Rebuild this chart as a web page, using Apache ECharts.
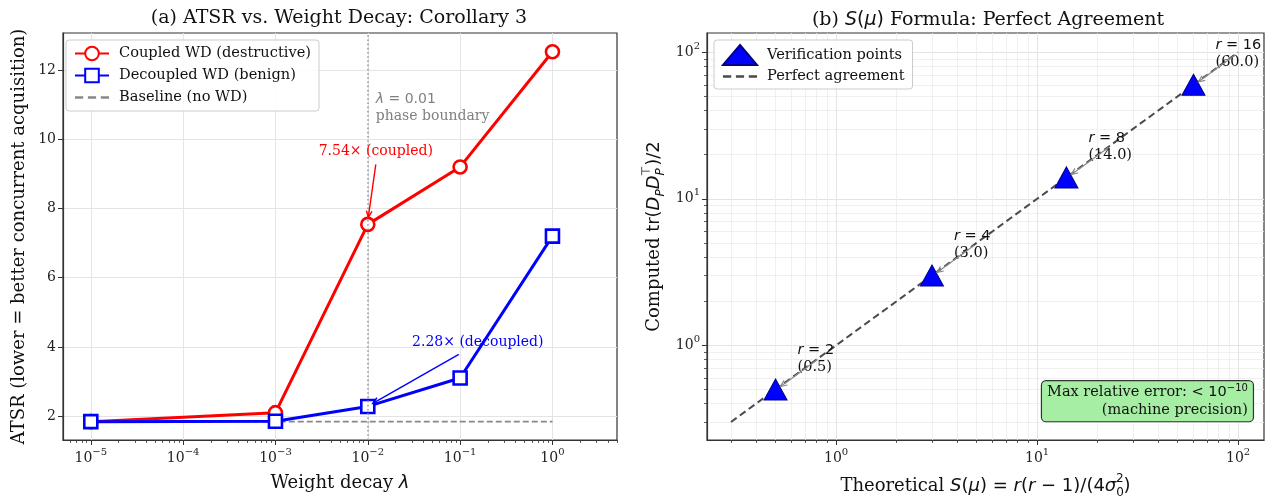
<!DOCTYPE html>
<html>
<head>
<meta charset="utf-8">
<script src="https://cdn.jsdelivr.net/npm/echarts@6/dist/echarts.min.js"></script>
<style>
  html, body { margin: 0; padding: 0; background: #fff; }
  #chart { width: 1273px; height: 496px; }
</style>
</head>
<body>
<div id="chart"></div>
<script>
// (a) ATSR vs weight decay
const lambdas = [1e-5, 1e-3, 1e-2, 1e-1, 1]
const coupledAtsr = [1.84, 2.1, 7.54, 9.2, 12.53]
const decoupledAtsr = [1.84, 1.85, 2.28, 3.1, 7.2]
const baselineAtsr = 1.84
const phaseLambda = 0.01
const xTicksA = [1e-5, 1e-4, 1e-3, 1e-2, 1e-1, 1]
const yTicksA = [2, 4, 6, 8, 10, 12]

// (b) S(mu) verification
const ranks = [2, 4, 8, 16]
const theoretical = [0.5, 3, 14, 60]
const computed = [0.5, 3, 14, 60]
const agreeRange = [0.3, 100]
const logTicksB = [1, 10, 100]

const SERIF = 'DejaVu Serif'
const SANS = 'DejaVu Sans'
const FRAME = '#333'
const TXT = '#111'

// minor log ticks (2..9 x 10^n)
function minorTicks(lo, hi) {
  let out = []
  for (let e = lo; e <= hi; e++) {
    for (let k = 2; k <= 9; k++) out.push(k * Math.pow(10, e))
  }
  return out
}

const supRich = {
  b: { fontFamily: SERIF, fontSize: 14, color: '#222', lineHeight: 22, verticalAlign: 'middle' },
  e: { fontFamily: SERIF, fontSize: 10, color: '#222', lineHeight: 15, verticalAlign: 'top' },
}
function powLabel(v) {
  let e = Math.round(Math.log10(v))
  return '{b|10}{e|' + (e < 0 ? '\u2212' + (-e) : e) + '}'
}

const chart = echarts.init(document.getElementById('chart'), null, { renderer: 'canvas' })

const gridA = { left: 63, right: 656, top: 33, bottom: 56 }
const gridB = { left: 707, right: 9, top: 33, bottom: 56 }

function frameGrid(g) {
  return Object.assign({
    show: true, borderColor: FRAME, borderWidth: 1.2, backgroundColor: 'transparent',
    containLabel: false, outerBoundsMode: 'none',
  }, g)
}

const majorSplit = { show: true, lineStyle: { color: '#e4e4e4', width: 1 } }
const minorSplit = { show: true, lineStyle: { color: '#ececec', width: 0.8 } }

// rich styles for mixed serif / math text
function mathRich(size, color, lh) {
  lh = lh || size + 8
  return {
    t: { fontFamily: SERIF, fontSize: size, color, lineHeight: lh, verticalAlign: 'middle' },
    i: { fontFamily: SANS, fontStyle: 'italic', fontSize: size, color, lineHeight: lh, verticalAlign: 'middle' },
    m: { fontFamily: SANS, fontSize: size, color, lineHeight: lh, verticalAlign: 'middle' },
    s: { fontFamily: SANS, fontStyle: 'italic', fontSize: Math.round(size * 0.68), color, lineHeight: Math.round(size * 0.8), verticalAlign: 'bottom' },
    u: { fontFamily: SANS, fontSize: Math.round(size * 0.68), color, lineHeight: Math.round(size * 0.8), verticalAlign: 'bottom' },
    p: { fontFamily: SANS, fontSize: Math.round(size * 0.68), color, lineHeight: size + 1, verticalAlign: 'top', padding: [0, 0, 0, -Math.round(size * 0.42)] },
  }
}

const dashIcon = 'path://M0,0h7v2H0z M11,0h7v2h-7z M22,0h7v2h-7z'

const option = {
  animation: false,
  backgroundColor: '#fff',
  textStyle: { fontFamily: SERIF },
  title: [
    {
      text: '(a) ATSR vs. Weight Decay: Corollary 3',
      left: 334, top: 4, textAlign: 'center',
      textStyle: { fontFamily: SERIF, fontSize: 19, fontWeight: 'normal', color: TXT },
    },
    {
      text: '{t|(b) }{i|S}{m|(}{i|\u03bc}{m|)}{t| Formula: Perfect Agreement}',
      left: 983, top: 4, textAlign: 'center',
      textStyle: { fontSize: 19, fontWeight: 'normal', color: TXT, rich: mathRich(19, TXT, 22) },
    },
  ],
  grid: [frameGrid(gridA), frameGrid(gridB)],
  legend: [
    {
      left: 66, top: 40, orient: 'vertical',
      itemWidth: 34, itemHeight: 17, itemGap: 5,
      padding: [5, 8, 5, 8],
      borderColor: '#cccccc', borderWidth: 1, borderRadius: 3,
      backgroundColor: 'rgba(255,255,255,0.85)',
      textStyle: { fontFamily: SERIF, fontSize: 14.6, color: TXT, lineHeight: 17, padding: [0, 0, 0, 5] },
      data: [
        'Coupled WD (destructive)',
        'Decoupled WD (benign)',
        { name: 'Baseline (no WD)', icon: dashIcon, itemStyle: { color: '#888888', borderWidth: 0 } },
      ],
    },
    {
      left: 714, top: 40, orient: 'vertical',
      itemWidth: 34, itemHeight: 20, itemGap: 2,
      padding: [4, 8, 4, 8],
      borderColor: '#cccccc', borderWidth: 1, borderRadius: 3,
      backgroundColor: 'rgba(255,255,255,0.85)',
      textStyle: { fontFamily: SERIF, fontSize: 14.6, color: TXT, lineHeight: 17, padding: [0, 0, 0, 5] },
      data: [
        { name: 'Verification points', icon: 'triangle' },
        { name: 'Perfect agreement', icon: dashIcon, itemStyle: { color: '#4a4a4a', borderWidth: 0 } },
      ],
    },
  ],
  xAxis: [
    {
      // left main
      type: 'log', logBase: 10, gridIndex: 0, position: 'bottom',
      min: 5e-6, max: 5,
      name: '{t|Weight decay }{i|\u03bb}', nameLocation: 'middle', nameGap: 30,
      nameTextStyle: { fontSize: 18, color: TXT, rich: mathRich(18, TXT) },
      axisLine: { show: true, onZero: false, lineStyle: { color: FRAME, width: 1.2 } },
      axisTick: { show: true, length: 5, customValues: xTicksA, lineStyle: { color: FRAME } },
      axisLabel: { customValues: xTicksA, margin: 7, formatter: powLabel, rich: supRich },
      splitLine: majorSplit,
    },
    {
      // left minor ticks
      type: 'log', logBase: 10, gridIndex: 0, position: 'bottom',
      min: 5e-6, max: 5,
      axisLine: { show: false, onZero: false },
      axisTick: { show: true, length: 3, customValues: minorTicks(-6, 0), lineStyle: { color: FRAME, width: 0.8 } },
      axisLabel: { show: false },
      splitLine: { show: false },
    },
    {
      // right main
      type: 'log', logBase: 10, gridIndex: 1, position: 'bottom',
      min: 0.228, max: 134.6,
      name: '{t|Theoretical }{i|S}{m|(}{i|\u03bc}{m|) = }{i|r}{m|(}{i|r}{m| \u2212 1)/(4}{i|\u03c3}{u|0}{p|2}{m|)}',
      nameLocation: 'middle', nameGap: 33,
      nameTextStyle: { fontSize: 18, color: TXT, rich: mathRich(18, TXT) },
      axisLine: { show: true, onZero: false, lineStyle: { color: FRAME, width: 1.2 } },
      axisTick: { show: true, length: 5, customValues: logTicksB, lineStyle: { color: FRAME } },
      axisLabel: { customValues: logTicksB, margin: 7, formatter: powLabel, rich: supRich },
      splitLine: majorSplit,
    },
    {
      // right minor
      type: 'log', logBase: 10, gridIndex: 1, position: 'bottom',
      min: 0.228, max: 134.6,
      axisLine: { show: false, onZero: false },
      axisTick: { show: true, length: 3, customValues: minorTicks(-1, 1), lineStyle: { color: FRAME, width: 0.8 } },
      axisLabel: { show: false },
      splitLine: minorSplit,
    },
  ],
  yAxis: [
    {
      type: 'value', gridIndex: 0, position: 'left',
      min: 1.31, max: 13.07,
      name: 'ATSR (lower = better concurrent acquisition)', nameLocation: 'middle', nameGap: 35,
      nameTextStyle: { fontFamily: SERIF, fontSize: 18, color: TXT },
      axisLine: { show: true, onZero: false, lineStyle: { color: FRAME, width: 1.2 } },
      axisTick: { show: true, length: 5, customValues: yTicksA, lineStyle: { color: FRAME } },
      axisLabel: { customValues: yTicksA, margin: 7, fontFamily: SERIF, fontSize: 14, color: '#222' },
      splitLine: majorSplit,
    },
    {
      type: 'log', logBase: 10, gridIndex: 1, position: 'left',
      min: 0.226, max: 135.5,
      name: '{t|Computed }{m|tr(}{i|D}{s|P}{i|D}{s|P}{p|\u22a4}{m|)/2}',
      nameLocation: 'middle', nameGap: 40,
      nameTextStyle: { fontSize: 18, color: TXT, rich: mathRich(18, TXT) },
      axisLine: { show: true, onZero: false, lineStyle: { color: FRAME, width: 1.2 } },
      axisTick: { show: true, length: 5, customValues: logTicksB, lineStyle: { color: FRAME } },
      axisLabel: { customValues: logTicksB, margin: 7, formatter: powLabel, rich: supRich },
      splitLine: majorSplit,
    },
    {
      type: 'log', logBase: 10, gridIndex: 1, position: 'left',
      min: 0.226, max: 135.5,
      axisLine: { show: false, onZero: false },
      axisTick: { show: true, length: 3, customValues: minorTicks(-1, 2), lineStyle: { color: FRAME, width: 0.8 } },
      axisLabel: { show: false },
      splitLine: minorSplit,
    },
  ],
  series: [
    {
      name: 'Baseline (no WD)', type: 'line', xAxisIndex: 0, yAxisIndex: 0,
      data: [[lambdas[0], baselineAtsr], [lambdas[lambdas.length - 1], baselineAtsr]],
      symbol: 'none', z: 2,
      lineStyle: { color: '#888888', width: 1.8, type: [6, 3] },
      itemStyle: { color: '#888888' },
      markLine: {
        silent: true, symbol: 'none', label: { show: false },
        lineStyle: { color: '#9a9a9a', width: 1.6, type: [1.6, 2.6] },
        data: [{ xAxis: phaseLambda }],
      },
    },
    {
      name: 'Coupled WD (destructive)', type: 'line', xAxisIndex: 0, yAxisIndex: 0,
      data: lambdas.map((x, i) => [x, coupledAtsr[i]]),
      symbol: 'circle', symbolSize: 13, z: 3,
      lineStyle: { color: '#ff0000', width: 3 },
      itemStyle: { color: '#ffffff', borderColor: '#ff0000', borderWidth: 2.6 },
    },
    {
      name: 'Decoupled WD (benign)', type: 'line', xAxisIndex: 0, yAxisIndex: 0,
      data: lambdas.map((x, i) => [x, decoupledAtsr[i]]),
      symbol: 'rect', symbolSize: 13, z: 4,
      lineStyle: { color: '#0000ff', width: 3 },
      itemStyle: { color: '#ffffff', borderColor: '#0000ff', borderWidth: 2.6 },
    },
    {
      name: 'Perfect agreement', type: 'line', xAxisIndex: 2, yAxisIndex: 1,
      data: agreeRange.map((v) => [v, v]),
      symbol: 'none', z: 2,
      lineStyle: { color: '#4a4a4a', width: 2, type: [7, 4] },
      itemStyle: { color: '#4a4a4a' },
    },
    {
      name: 'Verification points', type: 'scatter', xAxisIndex: 2, yAxisIndex: 1,
      data: theoretical.map((x, i) => [x, computed[i]]),
      symbol: 'triangle', symbolSize: [23, 21], z: 5,
      itemStyle: { color: '#0000ff', borderColor: '#00008b', borderWidth: 1, opacity: 1 },
    },
  ],
}

chart.setOption(option)

// ---- annotations (placed through the chart's own scales) ----
function arrow(x1, y1, x2, y2, color, width) {
  let ang = Math.atan2(y2 - y1, x2 - x1),
    len = 7,
    spread = 0.42
  return [
    { type: 'line', shape: { x1, y1, x2, y2 }, style: { stroke: color, lineWidth: width }, z: 50 },
    {
      type: 'polyline',
      shape: {
        points: [
          [x2 - len * Math.cos(ang - spread), y2 - len * Math.sin(ang - spread)],
          [x2, y2],
          [x2 - len * Math.cos(ang + spread), y2 - len * Math.sin(ang + spread)],
        ],
      },
      style: { stroke: color, lineWidth: width, fill: null },
      z: 50,
    },
  ]
}

let graphics = []
const toA = (p) => chart.convertToPixel({ xAxisIndex: 0, yAxisIndex: 0 }, p)
const toB = (p) => chart.convertToPixel({ xAxisIndex: 2, yAxisIndex: 1 }, p)

// phase boundary label
let pb = toA([phaseLambda, 11.4])
graphics.push({
  type: 'text', x: pb[0] + 8, y: pb[1], z: 40,
  style: {
    text: '{i|\u03bb}{m| = 0.01}\n{t|phase boundary}',
    align: 'left', verticalAlign: 'top',
    rich: {
      i: { fontFamily: SANS, fontStyle: 'italic', fontSize: 14, fill: '#808080', lineHeight: 17 },
      m: { fontFamily: SANS, fontSize: 14, fill: '#808080', lineHeight: 17 },
      t: { fontFamily: SERIF, fontSize: 14, fill: '#808080', lineHeight: 17 },
    },
  },
})

// 7.54x coupled
let pc = toA([lambdas[2], coupledAtsr[2]])
graphics.push({
  type: 'text', x: pc[0] + 8, y: pc[1] - 73, z: 40,
  style: { text: coupledAtsr[2].toFixed(2) + '\u00d7 (coupled)', fill: '#ff0000', fontFamily: SERIF, fontSize: 14, align: 'center', verticalAlign: 'middle' },
})
graphics.push(...arrow(pc[0] + 8, pc[1] - 60, pc[0] + 0.5, pc[1] - 7, '#ff0000', 1.4))

// 2.28x decoupled
let pd = toA([lambdas[2], decoupledAtsr[2]])
graphics.push({
  type: 'text', x: pd[0] + 110, y: pd[1] - 64, z: 40,
  style: { text: decoupledAtsr[2].toFixed(2) + '\u00d7 (decoupled)', fill: '#0000ff', fontFamily: SERIF, fontSize: 14, align: 'center', verticalAlign: 'middle' },
})
graphics.push(...arrow(pd[0] + 91, pd[1] - 52, pd[0] + 5, pd[1] - 3, '#0000ff', 1.4))

// rank labels on the right
ranks.forEach((r, i) => {
  let p = toB([theoretical[i], computed[i]])
  graphics.push({
    type: 'text', x: p[0] + 22, y: p[1] - 48, z: 40,
    style: {
      text: '{i|r}{m| = ' + r + '}\n{t|(' + computed[i].toFixed(1) + ')}',
      align: 'left', verticalAlign: 'top',
      rich: {
        i: { fontFamily: SANS, fontStyle: 'italic', fontSize: 14.5, fill: TXT, lineHeight: 17 },
        m: { fontFamily: SANS, fontSize: 14.5, fill: TXT, lineHeight: 17 },
        t: { fontFamily: SERIF, fontSize: 14.5, fill: TXT, lineHeight: 17 },
      },
    },
  })
  graphics.push(...arrow(p[0] + 42, p[1] - 30, p[0] + 5, p[1] - 3, '#8c8c8c', 1.2))
})

// error box (axes fraction 0.98, 0.05 of panel b)
let bRight = 1273 - gridB.right,
  bBottom = 496 - gridB.bottom,
  bW = bRight - gridB.left,
  bH = bBottom - gridB.top
graphics.push({
  type: 'text', x: bRight - 0.02 * bW, y: bBottom - 0.05 * bH + 1.5, z: 45,
  style: {
    text: '{t|Max relative error: }{m|< 10}{e|\u221210}\n{t|(machine precision)}',
    align: 'right', verticalAlign: 'bottom',
    backgroundColor: '#a6eea3', borderColor: '#333', borderWidth: 1.2, borderRadius: 4,
    padding: [2, 5, 2, 5],
    rich: {
      t: { fontFamily: SERIF, fontSize: 14.5, fill: TXT, lineHeight: 18, verticalAlign: 'middle' },
      m: { fontFamily: SANS, fontSize: 14.5, fill: TXT, lineHeight: 18, verticalAlign: 'middle' },
      e: { fontFamily: SANS, fontSize: 10, fill: TXT, lineHeight: 12, verticalAlign: 'top' },
    },
  },
})

chart.setOption({ graphic: graphics })
</script>
</body>
</html>
